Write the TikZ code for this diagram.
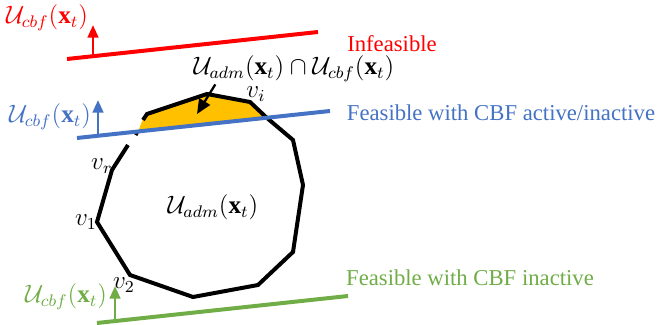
\documentclass[tikz,border=0pt]{standalone}
\usepackage{amsmath}
\usepackage{fontspec}
\setmainfont{Liberation Serif}
\usetikzlibrary{arrows.meta}
\definecolor{cred}{HTML}{FF0000}
\definecolor{cblue}{HTML}{4472C4}
\definecolor{cgreen}{HTML}{70AD47}
\definecolor{corange}{HTML}{FFC000}
\tikzset{
  bound/.style={line width=1.9pt},
  normal/.style={line width=1.3pt, -{Triangle[length=6pt,width=5pt]}},
  mlabel/.style={font=\large, inner sep=0pt},
  tlabel/.style={font=\fontsize{10.8}{13}\selectfont, inner sep=0pt},
  vlabel/.style={font=\large, inner sep=0pt},
  poly/.style={line width=1.9pt, line join=miter},
}
\begin{document}
\begin{tikzpicture}[x=0.476pt,y=-0.476pt]
\useasboundingbox (0,0) rectangle (658,325);
% orange intersection region
\fill[corange] (138,131.7) -- (143,119) -- (147,114) -- (207,94) -- (250,102) -- (266,118.7) -- cycle;
% polygon
\draw[poly] (128,145) -- (112,170) -- (97,222) -- (130,275) -- (193,297) -- (258,285) -- (293,252) -- (303,185) -- (293,140) -- (267,118) -- (250,102) -- (207,94) -- (147,114) -- (143,120);
\draw[poly] (135.5,135) -- (137,132.5);
% red constraint
\coordinate (r1) at (67,59);
\coordinate (r2) at (318,32);
\coordinate (ra) at (93,56);
\coordinate (rb) at (93,25);
\draw[bound, cred] (r1) -- (r2);
\draw[normal, cred] (ra) -- (rb);
% blue constraint
\coordinate (b1) at (77,138);
\coordinate (b2) at (330,111);
\coordinate (ba) at (98,135);
\coordinate (bb) at (98,100);
\draw[bound, cblue] (b1) -- (b2);
\draw[normal, cblue] (ba) -- (bb);
% green constraint
\coordinate (g1) at (97,323);
\coordinate (g2) at (348,296);
\coordinate (ga) at (115,320);
\coordinate (gb) at (115,286);
\draw[bound, cgreen] (g1) -- (g2);
\draw[normal, cgreen] (ga) -- (gb);
% labels
\node[mlabel, text=cred] (lr) at (47,18) {$\mathcal{U}_{cbf}(\mathbf{x}_t)$};
\node[tlabel, text=cred] (tr) at (392,44) {Infeasible};
\node[mlabel, text=cblue] (lb) at (50,117) {$\mathcal{U}_{cbf}(\mathbf{x}_t)$};
\node[tlabel, text=cblue] (tb) at (501,113) {Feasible with CBF active/inactive};
\node[mlabel, text=cgreen] (lg) at (66,297) {$\mathcal{U}_{cbf}(\mathbf{x}_t)$};
\node[tlabel, text=cgreen] (tg) at (470,278) {Feasible with CBF inactive};
\node[mlabel] (li) at (294,69) {$\mathcal{U}_{adm}(\mathbf{x}_t)\cap\mathcal{U}_{cbf}(\mathbf{x}_t)$};
\node[mlabel] (la) at (213,207) {$\mathcal{U}_{adm}(\mathbf{x}_t)$};
\node[vlabel] (vi) at (256,94) {$v_i$};
\node[vlabel] (vr) at (102,166) {$v_r$};
\node[vlabel] (v1) at (86,222) {$v_1$};
\node[vlabel] (v2) at (124,285) {$v_2$};
\coordinate (at) at (197,114);
\draw[line width=1.1pt, -{Triangle[length=7pt,width=6pt]}] (li.south west) ++(22,2) -- (at);
\end{tikzpicture}
\end{document}
